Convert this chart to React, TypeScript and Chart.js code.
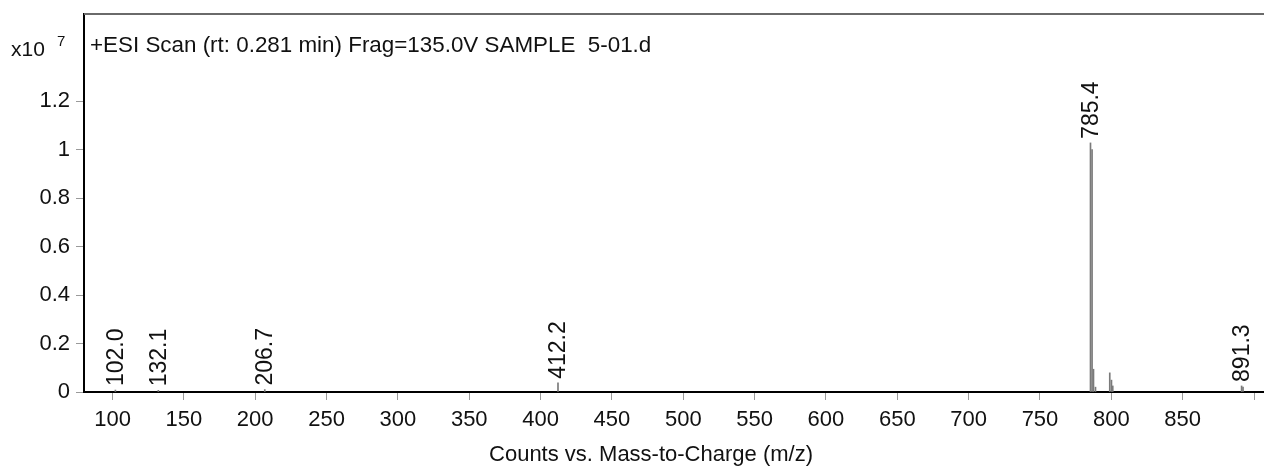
import React, { useEffect, useRef } from 'react';
import { Chart, registerables } from 'chart.js';
Chart.register(...registerables);

const FONT = "'Liberation Sans', Arial, sans-serif";

// m/z positions of the sticks and their intensities (x10^7 counts)
const mzValues = [102.0, 132.1, 206.7, 412.2, 785.4, 786.5, 787.5, 788.9, 798.9, 800.1, 801.0, 891.3, 892.3];
const intensities = [0.008, 0.007, 0.01, 0.038, 1.028, 1.0, 0.094, 0.02, 0.079, 0.049, 0.025, 0.025, 0.02];
// peaks annotated with their m/z
const labeledMz = [102.0, 132.1, 206.7, 412.2, 785.4, 891.3];

const titleText = '+ESI Scan (rt: 0.281 min) Frag=135.0V SAMPLE  5-01.d';
const xAxisTitle = 'Counts vs. Mass-to-Charge (m/z)';

const overlayPlugin = {
  id: 'overlay',
  afterDraw(chart: any) {
    const { ctx, chartArea, scales } = chart;
    const xs = scales.x;
    const ys = scales.y;
    ctx.save();
    // top frame line
    ctx.strokeStyle = '#6a6a6a';
    ctx.lineWidth = 2;
    ctx.beginPath();
    ctx.moveTo(chartArea.left, chartArea.top);
    ctx.lineTo(chart.width, chartArea.top);
    ctx.stroke();

    ctx.fillStyle = '#111';
    // title inside plot
    ctx.font = `22.4px ${FONT}`;
    ctx.textAlign = 'left';
    ctx.textBaseline = 'alphabetic';
    ctx.fillText(titleText, chartArea.left + 6, 52);
    // exponent label
    ctx.font = `21px ${FONT}`;
    ctx.fillText('x10', 11, 56);
    ctx.font = `15px ${FONT}`;
    ctx.fillText('7', 57, 46);

    // x axis title
    ctx.font = `22px ${FONT}`;
    ctx.textAlign = 'center';
    ctx.textBaseline = 'middle';
    ctx.fillText(xAxisTitle, 651, 455);

    // peak labels
    ctx.font = `23px ${FONT}`;
    ctx.textAlign = 'left';
    ctx.textBaseline = 'middle';
    labeledMz.forEach((mz) => {
      const i = mzValues.indexOf(mz);
      const px = xs.getPixelForValue(mz);
      const py = ys.getPixelForValue(intensities[i]);
      ctx.save();
      ctx.translate(px + 1, py - 4);
      ctx.rotate(-Math.PI / 2);
      ctx.fillText(mz.toFixed(1), 0, 0);
      ctx.restore();
    });
    ctx.restore();
  },
};

export default function App() {
  const ref = useRef<HTMLCanvasElement>(null);
  useEffect(() => {
    if (!ref.current) return;
    const chart = new Chart(ref.current, {
      type: 'bar',
      data: {
        datasets: [
          {
            data: mzValues.map((x, i) => ({ x, y: intensities[i] })),
            backgroundColor: '#7a7a7a',
            borderWidth: 0,
            barThickness: 1,
            grouped: false,
          } as any,
        ],
      },
      options: {
        responsive: false,
        animation: false,
        layout: { padding: { top: 14, left: 0, right: 0, bottom: 0 } },
        plugins: { legend: { display: false }, tooltip: { enabled: false }, title: { display: false } },
        scales: {
          x: {
            type: 'linear',
            min: 80,
            max: 907,
            offset: false,
            afterFit: (s: any) => {
              s.height = 77;
              s.paddingLeft = 0;
              s.paddingRight = 0;
            },
            afterBuildTicks: (s: any) => {
              s.ticks = s.ticks.filter((t: any) => t.value >= 100 && t.value % 50 === 0);
            },
            ticks: {
              stepSize: 50,
              includeBounds: false,
              autoSkip: false,
              maxRotation: 0,
              color: '#111',
              padding: 7,
              font: { size: 22, family: FONT },
              callback: (v: any) => (v >= 900 ? '' : String(v)),
            },
            grid: { display: true, offset: false, drawOnChartArea: false, drawTicks: true, tickLength: 8, color: '#9a9a9a', lineWidth: 1 },
            border: { display: true, color: '#000', width: 2 },
            title: { display: false },
          },
          y: {
            min: 0,
            max: 1.56,
            afterFit: (s: any) => {
              s.width = 84;
              s.paddingTop = 0;
              s.paddingBottom = 0;
            },
            afterBuildTicks: (s: any) => {
              s.ticks = s.ticks.filter((t: any) => t.value <= 1.2001);
            },
            ticks: {
              stepSize: 0.2,
              includeBounds: false,
              color: '#111',
              padding: 6,
              font: { size: 22, family: FONT },
              callback: (v: any) => String(Number(Number(v).toFixed(1))),
            },
            grid: { display: true, drawOnChartArea: false, drawTicks: true, tickLength: 8, color: '#9a9a9a', lineWidth: 1 },
            border: { display: true, color: '#000', width: 2 },
          },
        },
      } as any,
      plugins: [overlayPlugin],
    });
    return () => chart.destroy();
  }, []);
  return (
    <div style={{ position: 'absolute', left: 0, top: 0, width: 1264, height: 469, background: '#fff' }}>
      <canvas ref={ref} width={1264} height={469} style={{ width: 1264, height: 469 }} />
    </div>
  );
}
